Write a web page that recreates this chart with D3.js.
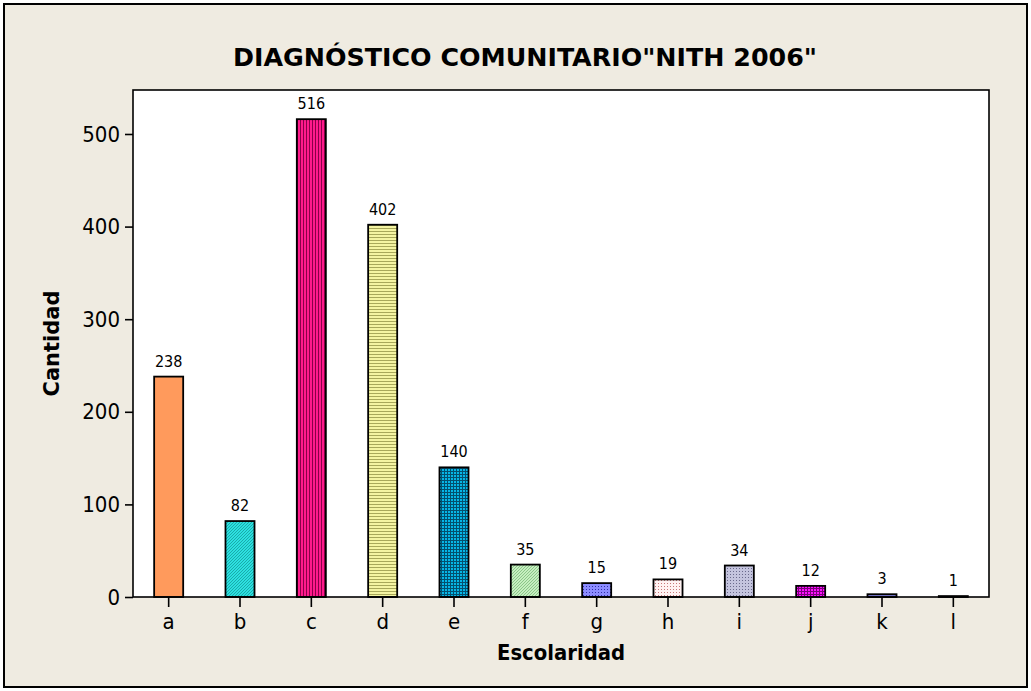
<!DOCTYPE html>
<html>
<head>
<meta charset="utf-8">
<script src="https://cdn.jsdelivr.net/npm/d3@7"></script>
<style>
  html, body { margin: 0; padding: 0; background: #ffffff; }
  svg { display: block; }
  text { font-family: "DejaVu Sans Condensed", "DejaVu Sans", sans-serif; fill: #000; }
</style>
</head>
<body>
<svg id="chart" width="1031" height="691"></svg>
<script>
// Escolaridad counts, community diagnosis NITH 2006
const categories = ["a", "b", "c", "d", "e", "f", "g", "h", "i", "j", "k", "l"];
const counts = [238, 82, 516, 402, 140, 35, 15, 19, 34, 12, 3, 1];
const yTickValues = [0, 100, 200, 300, 400, 500];

// fill style of each bar: [base colour, ink colour, hatch kind]
const fills = [
  ["#FF9A5C", "#FF9A5C", "solid"],
  ["#2DE0E0", "#0B8C8C", "diag"],
  ["#FF1A8C", "#8A0048", "vert"],
  ["#F4F4A2", "#A8A85A", "horiz"],
  ["#06B6E6", "#03506E", "grid"],
  ["#C6EEC0", "#6AAE6A", "diag"],
  ["#8C8CFF", "#3030A8", "dots"],
  ["#FFF2F2", "#C87878", "dots"],
  ["#C4C4DE", "#6A6A8C", "dots"],
  ["#FF10FF", "#7A007A", "grid"],
  ["#8080DC", "#8080DC", "solid"],
  ["#000000", "#000000", "solid"]
];

const W = 1031, H = 691;
const plot = { left: 133, right: 989, top: 90, bottom: 597 };

const svg = d3.select("#chart");

// outer panel
svg.append("rect")
  .attr("x", 4).attr("y", 4).attr("width", W - 8).attr("height", H - 8)
  .attr("fill", "#EFEBE1").attr("stroke", "#000").attr("stroke-width", 2);

// hatch patterns
const defs = svg.append("defs");
fills.forEach((f, i) => {
  const [base, ink, kind] = f;
  if (kind === "solid") return;
  const p = defs.append("pattern")
    .attr("id", "fill" + i)
    .attr("patternUnits", "userSpaceOnUse")
    .attr("width", 3)
    .attr("height", 3);
  p.append("rect").attr("width", 3).attr("height", 3).attr("fill", base);
  if (kind === "vert") {
    p.append("rect").attr("x", 0).attr("y", 0).attr("width", 1).attr("height", 3).attr("fill", ink);
  } else if (kind === "horiz") {
    p.append("rect").attr("x", 0).attr("y", 0).attr("width", 3).attr("height", 1).attr("fill", ink);
  } else if (kind === "grid") {
    p.append("rect").attr("x", 0).attr("y", 0).attr("width", 1).attr("height", 3).attr("fill", ink);
    p.append("rect").attr("x", 0).attr("y", 0).attr("width", 3).attr("height", 1).attr("fill", ink);
  } else if (kind === "dots") {
    p.append("rect").attr("x", 1).attr("y", 1).attr("width", 1).attr("height", 1).attr("fill", ink);
  } else if (kind === "diag") {
    p.append("path").attr("d", "M0,3 L3,0 M-1,1 L1,-1 M2,4 L4,2")
      .attr("stroke", ink).attr("stroke-width", 0.8).attr("opacity", 0.8);
  }
});

// scales
const x = d3.scaleBand()
  .domain(categories)
  .range([plot.left, plot.right])
  .paddingInner(0.593)
  .paddingOuter(0.2965);

const y = d3.scaleLinear()
  .domain([0, 547.5])
  .range([plot.bottom, plot.top]);

// plot area
svg.append("rect")
  .attr("x", plot.left).attr("y", plot.top)
  .attr("width", plot.right - plot.left).attr("height", plot.bottom - plot.top)
  .attr("fill", "#ffffff");

// bars
svg.append("g").selectAll("rect")
  .data(categories)
  .join("rect")
  .attr("x", d => x(d))
  .attr("y", (d, i) => y(counts[i]))
  .attr("width", x.bandwidth())
  .attr("height", (d, i) => y(0) - y(counts[i]))
  .attr("fill", (d, i) => fills[i][2] === "solid" ? fills[i][0] : "url(#fill" + i + ")")
  .attr("stroke", "#000")
  .attr("stroke-width", 1.8);

// value labels
svg.append("g").selectAll("text")
  .data(categories)
  .join("text")
  .attr("x", d => x(d) + x.bandwidth() / 2)
  .attr("y", (d, i) => y(counts[i]) - 10)
  .attr("text-anchor", "middle")
  .attr("font-size", 16)
  .text((d, i) => counts[i]);

// frame around plot
svg.append("rect")
  .attr("x", plot.left).attr("y", plot.top)
  .attr("width", plot.right - plot.left).attr("height", plot.bottom - plot.top)
  .attr("fill", "none").attr("stroke", "#000").attr("stroke-width", 1.6);

// y axis
const yAxis = svg.append("g")
  .attr("transform", `translate(${plot.left},0)`)
  .call(d3.axisLeft(y).tickValues(yTickValues).tickSize(8).tickPadding(5));
yAxis.select(".domain").remove();
yAxis.selectAll(".tick line").attr("stroke", "#000").attr("stroke-width", 1.6);
yAxis.selectAll(".tick text")
  .attr("font-size", 22)
  .attr("font-family", null)
  .attr("fill", "#000");

// x axis
const xAxis = svg.append("g")
  .attr("transform", `translate(0,${plot.bottom})`)
  .call(d3.axisBottom(x).tickSize(10).tickPadding(6));
xAxis.select(".domain").remove();
xAxis.selectAll(".tick line").attr("stroke", "#000").attr("stroke-width", 1.6);
xAxis.selectAll(".tick text")
  .attr("font-size", 22)
  .attr("font-family", null)
  .attr("fill", "#000");

// titles
svg.append("text")
  .attr("x", 525).attr("y", 66)
  .attr("text-anchor", "middle")
  .attr("font-size", 25).attr("font-weight", "bold")
  .attr("textLength", 584).attr("lengthAdjust", "spacingAndGlyphs")
  .text("DIAGNÓSTICO COMUNITARIO\"NITH 2006\"");

svg.append("text")
  .attr("x", 561).attr("y", 660)
  .attr("text-anchor", "middle")
  .attr("font-size", 21).attr("font-weight", "bold")
  .attr("textLength", 128).attr("lengthAdjust", "spacingAndGlyphs")
  .text("Escolaridad");

svg.append("text")
  .attr("transform", `translate(59,${(plot.top + plot.bottom) / 2}) rotate(-90)`)
  .attr("text-anchor", "middle")
  .attr("font-size", 21).attr("font-weight", "bold")
  .attr("textLength", 106).attr("lengthAdjust", "spacingAndGlyphs")
  .text("Cantidad");
</script>
</body>
</html>
